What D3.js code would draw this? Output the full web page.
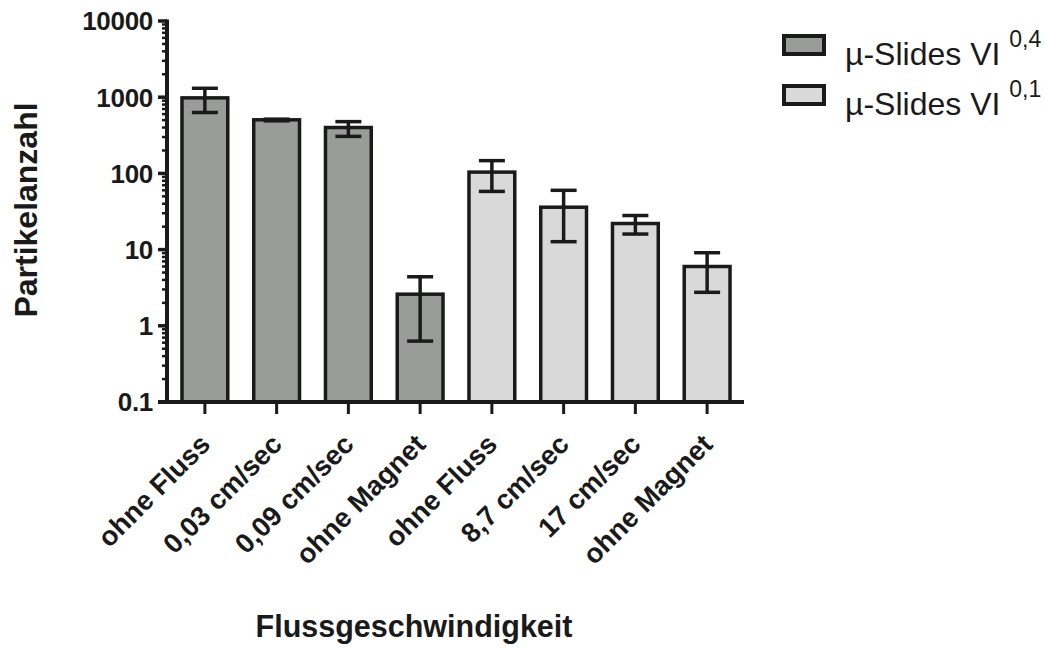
<!DOCTYPE html>
<html>
<head>
<meta charset="utf-8">
<script src="https://cdn.jsdelivr.net/npm/d3@7"></script>
<style>
  body { margin: 0; background: #fff; }
  text { font-family: "Liberation Sans", Arial, sans-serif; fill: #1a1a1a; }
</style>
</head>
<body>
<div id="chart"></div>
<script>
// data
const categories = ["ohne Fluss", "0,03 cm/sec", "0,09 cm/sec", "ohne Magnet",
                    "ohne Fluss", "8,7 cm/sec", "17 cm/sec", "ohne Magnet"];
const series = ["0,4", "0,4", "0,4", "0,4", "0,1", "0,1", "0,1", "0,1"];
const means = [980, 505, 400, 2.6, 104, 36, 22, 6.0];
const errLow = [630, 490, 306, 0.63, 58, 12.7, 16, 2.75];
const errHigh = [1310, 515, 478, 4.4, 147, 60, 28, 9.1];
const yTickValues = [0.1, 1, 10, 100, 1000, 10000];
const yTickLabels = ["0.1", "1", "10", "100", "1000", "10000"];
const legendSeries = ["0,4", "0,1"];

const width = 1045, height = 649;
const ink = "#1a1a1a";
const fills = { "0,4": "#9a9c9a", "0,1": "#d9d9d9" };

const svg = d3.select("#chart")
  .append("svg")
  .attr("width", width)
  .attr("height", height);

const axisX = 167;       // y axis position
const baseY = 402;       // x axis position

const x = d3.scaleBand()
  .domain(d3.range(categories.length))
  .range([169, 743])
  .paddingInner(0.32)
  .paddingOuter(0.16);

const y = d3.scaleLog()
  .domain([0.1, 10000])
  .range([baseY, 21]);

// bars
svg.append("g")
  .selectAll("rect")
  .data(means)
  .enter()
  .append("rect")
  .attr("x", (d, i) => x(i) + 1.5)
  .attr("width", x.bandwidth() - 3)
  .attr("y", d => y(d))
  .attr("height", d => baseY - y(d))
  .attr("fill", (d, i) => fills[series[i]])
  .attr("stroke", ink)
  .attr("stroke-width", 3.5);

// error bars
const capW = 26;
const eb = svg.append("g")
  .attr("stroke", ink)
  .attr("stroke-width", 3.5);

means.forEach((m, i) => {
  const cx = x(i) + x.bandwidth() / 2;
  eb.append("line")
    .attr("x1", cx).attr("x2", cx)
    .attr("y1", y(errHigh[i])).attr("y2", y(errLow[i]));
  [errHigh[i], errLow[i]].forEach(v => {
    eb.append("line")
      .attr("x1", cx - capW / 2).attr("x2", cx + capW / 2)
      .attr("y1", y(v)).attr("y2", y(v));
  });
});

// y axis: line, major and minor ticks
const yAxis = svg.append("g").attr("stroke", ink);
yAxis.append("line")
  .attr("x1", axisX).attr("x2", axisX)
  .attr("y1", y(10000) - 1.5).attr("y2", baseY)
  .attr("stroke-width", 4);

const minors = [];
[0.1, 1, 10, 100, 1000].forEach(dec => {
  for (let k = 2; k <= 9; k++) minors.push(dec * k);
});
yAxis.selectAll(".minor")
  .data(minors)
  .enter()
  .append("line")
  .attr("class", "minor")
  .attr("x1", axisX - 5).attr("x2", axisX)
  .attr("y1", d => y(d)).attr("y2", d => y(d))
  .attr("stroke-width", 2.5);

yAxis.selectAll(".major")
  .data(yTickValues)
  .enter()
  .append("line")
  .attr("class", "major")
  .attr("x1", axisX - 9).attr("x2", axisX)
  .attr("y1", d => y(d)).attr("y2", d => y(d))
  .attr("stroke-width", 3.5);

svg.append("g")
  .selectAll("text")
  .data(yTickValues)
  .enter()
  .append("text")
  .attr("x", 153)
  .attr("y", d => y(d))
  .attr("dy", "0.36em")
  .attr("text-anchor", "end")
  .attr("font-size", 26)
  .attr("font-weight", "bold")
  .attr("letter-spacing", "-0.3")
  .text((d, i) => yTickLabels[i]);

// x axis
const xAxis = svg.append("g").attr("stroke", ink);
xAxis.append("line")
  .attr("x1", axisX - 9).attr("x2", 744)
  .attr("y1", baseY).attr("y2", baseY)
  .attr("stroke-width", 4);

xAxis.selectAll(".xt")
  .data(categories)
  .enter()
  .append("line")
  .attr("x1", (d, i) => x(i) + x.bandwidth() / 2)
  .attr("x2", (d, i) => x(i) + x.bandwidth() / 2)
  .attr("y1", baseY).attr("y2", baseY + 12)
  .attr("stroke-width", 3);

svg.append("g")
  .selectAll("text")
  .data(categories)
  .enter()
  .append("text")
  .attr("transform", (d, i) => `translate(${x(i) + x.bandwidth() / 2 + 7}, 446) rotate(-45)`)
  .attr("text-anchor", "end")
  .attr("font-size", 27.5)
  .attr("font-weight", "bold")
  .text(d => d);

// axis titles
svg.append("text")
  .attr("transform", "translate(37, 210) rotate(-90)")
  .attr("text-anchor", "middle")
  .attr("font-size", 32)
  .attr("font-weight", "bold")
  .text("Partikelanzahl");

svg.append("text")
  .attr("x", 414)
  .attr("y", 637)
  .attr("text-anchor", "middle")
  .attr("font-size", 30.5)
  .attr("font-weight", "bold")
  .text("Flussgeschwindigkeit");

// legend
const legend = svg.append("g");
legendSeries.forEach((s, i) => {
  const ly = 36 + i * 50;
  legend.append("rect")
    .attr("x", 784).attr("y", ly)
    .attr("width", 40).attr("height", 18)
    .attr("fill", fills[s])
    .attr("stroke", ink)
    .attr("stroke-width", 4);
  const t = legend.append("text")
    .attr("x", 845)
    .attr("y", ly + 29)
    .attr("font-size", 32)
    .text("µ-Slides VI ");
  t.append("tspan")
    .attr("dy", -18)
    .attr("font-size", 23)
    .text(s);
});
</script>
</body>
</html>
